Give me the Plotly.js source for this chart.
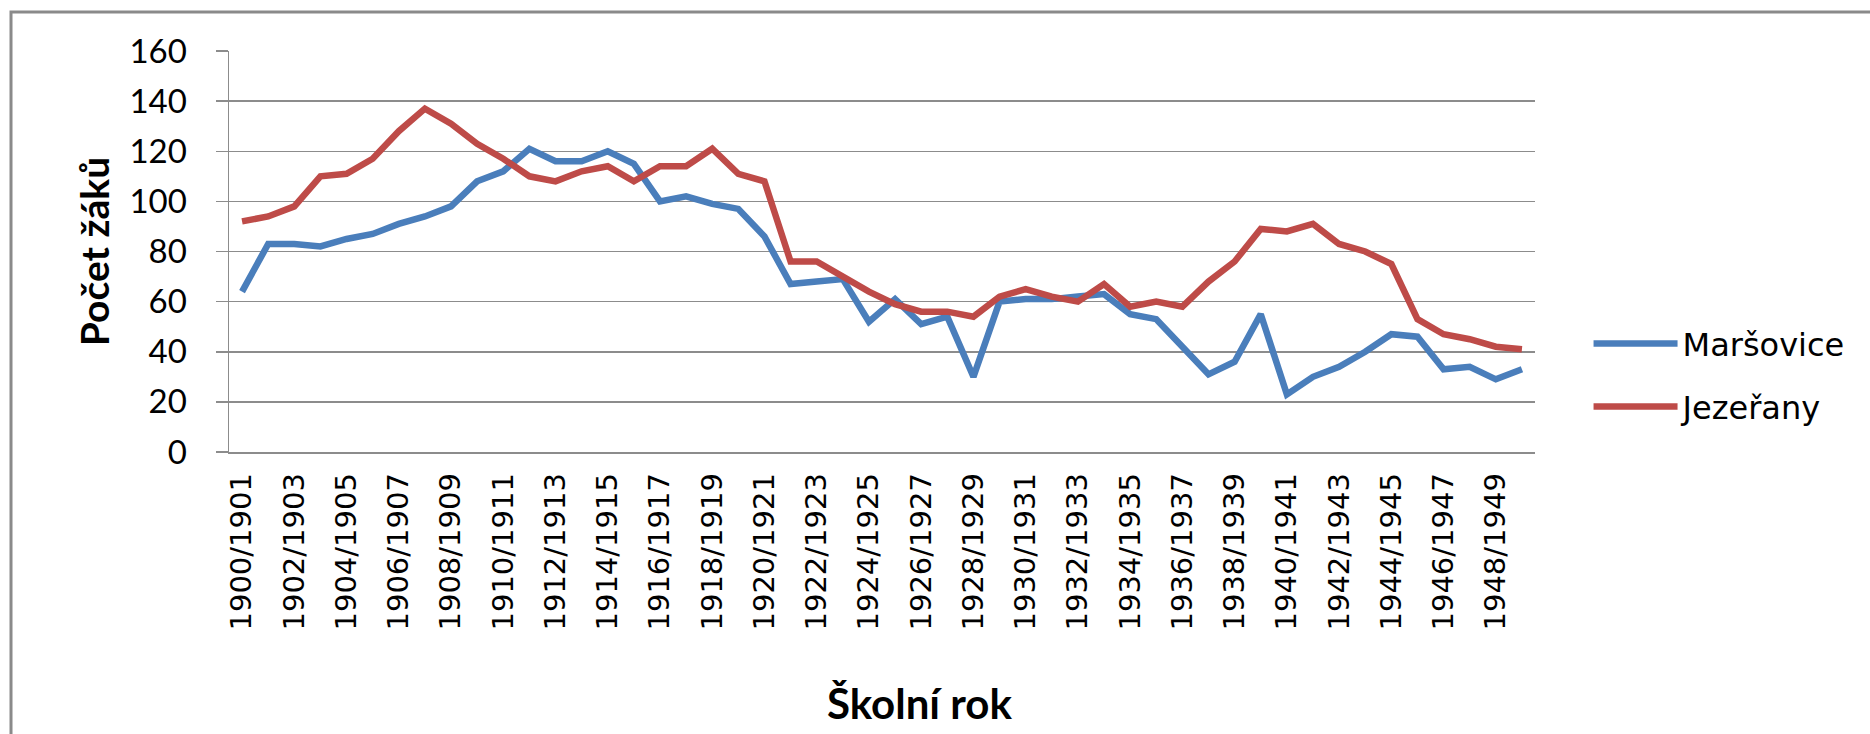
<!DOCTYPE html>
<html>
<head>
<meta charset="utf-8">
<script src="https://cdn.plot.ly/plotly-3.0.1.min.js"></script>
<style>
  html, body { margin: 0; padding: 0; background: #ffffff; }
  #chart { width: 1870px; height: 734px; }
</style>
</head>
<body>
<div id="chart"></div>
<script>
const categories = [
  "1900/1901","1901/1902","1902/1903","1903/1904","1904/1905","1905/1906","1906/1907","1907/1908","1908/1909","1909/1910",
  "1910/1911","1911/1912","1912/1913","1913/1914","1914/1915","1915/1916","1916/1917","1917/1918","1918/1919","1919/1920",
  "1920/1921","1921/1922","1922/1923","1923/1924","1924/1925","1925/1926","1926/1927","1927/1928","1928/1929","1929/1930",
  "1930/1931","1931/1932","1932/1933","1933/1934","1934/1935","1935/1936","1936/1937","1937/1938","1938/1939","1939/1940",
  "1940/1941","1941/1942","1942/1943","1943/1944","1944/1945","1945/1946","1946/1947","1947/1948","1948/1949","1949/1950"
];

const marsovice = [
  64, 83, 83, 82, 85, 87, 91, 94, 98, 108,
  112, 121, 116, 116, 120, 115, 100, 102, 99, 97,
  86, 67, 68, 69, 52, 61, 51, 54, 30, 60,
  61, 61, 62, 63, 55, 53, 42, 31, 36, 55,
  23, 30, 34, 40, 47, 46, 33, 34, 29, 33
];

const jezerany = [
  92, 94, 98, 110, 111, 117, 128, 137, 131, 123,
  117, 110, 108, 112, 114, 108, 114, 114, 121, 111,
  108, 76, 76, 70, 64, 59, 56, 56, 54, 62,
  65, 62, 60, 67, 58, 60, 58, 68, 76, 89,
  88, 91, 83, 80, 75, 53, 47, 45, 42, 41
];

const seriesNames = ["Maršovice", "Jezeřany"];
const yTitle = "Počet žáků";
const xTitle = "Školní rok";

const gridColor = "#8c8c8c";

const traces = [
  {
    type: "scatter", mode: "lines", name: seriesNames[0],
    x: categories, y: marsovice,
    line: { color: "#4a7ebb", width: 6.5 },
    legend: "legend"
  },
  {
    type: "scatter", mode: "lines", name: seriesNames[1],
    x: categories, y: jezerany,
    line: { color: "#be4b48", width: 6.5 },
    legend: "legend2"
  }
];

const legendCommon = {
  xanchor: "left", yanchor: "middle",
  font: { family: "DejaVu Sans", size: 32, color: "#000000" },
  bgcolor: "rgba(0,0,0,0)",
  itemwidth: 84
};

const layout = {
  width: 1870, height: 734,
  margin: { l: 229, r: 335, t: 51, b: 282 },
  paper_bgcolor: "#ffffff",
  plot_bgcolor: "#ffffff",
  showlegend: true,
  legend: Object.assign({ x: 1.041, y: 0.27 }, legendCommon),
  legend2: Object.assign({ x: 1.041, y: 0.113 }, legendCommon),
  xaxis: {
    type: "category",
    categoryorder: "array", categoryarray: categories,
    range: [-0.5, 49.5],
    dtick: 2,
    tickangle: -90,
    ticks: "",
    ticklabelstandoff: 8,
    tickfont: { family: "DejaVu Sans", size: 29, color: "#000000" },
    showline: true, linecolor: gridColor, linewidth: 1.5,
    showgrid: false, zeroline: false, fixedrange: true
  },
  xaxis2: {
    overlaying: "x", anchor: "y", side: "bottom",
    type: "linear", range: [-0.5, 49.5],
    tick0: -0.5, dtick: 1,
    ticks: "outside", ticklen: 12, tickwidth: 1.5, tickcolor: gridColor,
    showticklabels: false, showgrid: false, zeroline: false, showline: false
  },
  yaxis: {
    range: [0, 160], dtick: 20,
    ticks: "outside", ticklen: 12, tickwidth: 1.5, tickcolor: gridColor,
    ticklabelstandoff: 22,
    tickfont: { family: "Lato", size: 33, color: "#000000" },
    showgrid: true, gridcolor: gridColor, gridwidth: 1.5,
    showline: true, linecolor: gridColor, linewidth: 1.5,
    zeroline: false, fixedrange: true,
    title: { text: yTitle, font: { family: "Lato", size: 39, weight: "bold", color: "#000000" }, standoff: 8 }
  },
  annotations: [
    {
      text: xTitle, xref: "paper", yref: "paper",
      x: (919 - 229) / 1306, y: (452 - 704) / 402,
      xanchor: "center", yanchor: "middle", showarrow: false,
      font: { family: "Lato", size: 42, weight: "bold", color: "#000000" }
    }
  ],
  shapes: [
    {
      type: "rect", xref: "paper", yref: "paper",
      x0: (11 - 229) / 1306, x1: 3, y0: -3, y1: (452 - 11) / 402,
      line: { color: "#8a8a8a", width: 3 }, fillcolor: "rgba(0,0,0,0)", layer: "below"
    }
  ]
};

Plotly.newPlot("chart", traces, layout, { displayModeBar: false, staticPlot: true });
</script>
</body>
</html>
